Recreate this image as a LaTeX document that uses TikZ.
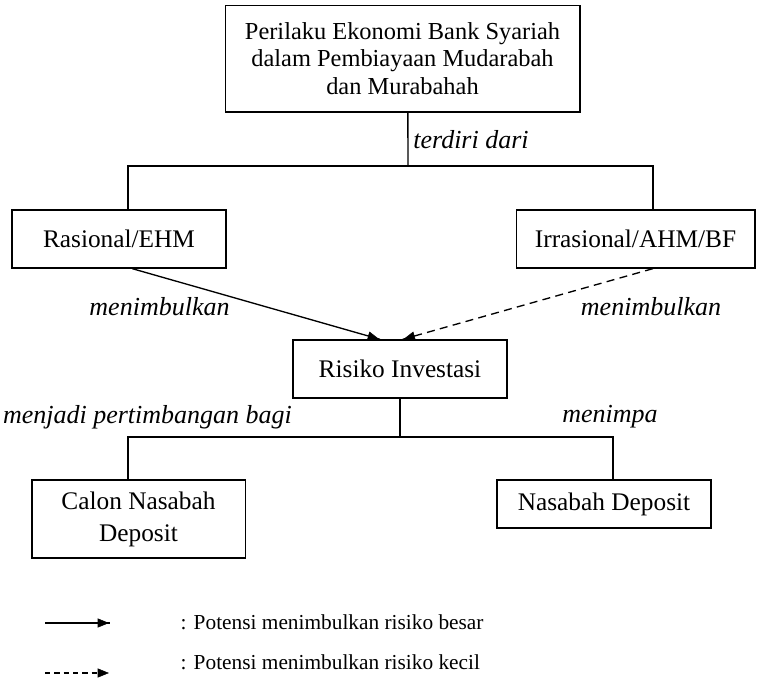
\documentclass[tikz,border=0pt]{standalone}
\usepackage{fontspec}
\setmainfont{Liberation Serif}
\usetikzlibrary{arrows.meta, decorations.markings}
\tikzstyle{Box} = [
draw, line width=1pt, align=center, inner sep=0pt,
font=\fontsize{19}{24}\selectfont
]
\tikzstyle{Label} = [font=\fontsize{19.5}{22}\selectfont\itshape]
\tikzstyle{Line} = [line width=1pt]
\tikzstyle{Arrow} = [
line width=1pt, 
decoration={
	markings,
	mark=at position 1 with {
		\arrow{Triangle[length=9.5pt, width=7.5pt]}
	}
}, 
preaction = {decorate}
]
\tikzstyle{DashArrow} = [Arrow, dash pattern=on 6pt off 4pt]

\begin{document}
\begin{tikzpicture}[x=0.75pt, y=-0.75pt]
			\useasboundingbox (0,0) rectangle (757,678);
			% boxes
			\node[Box, minimum width=266pt, minimum height=80pt, font=\fontsize{18.3}{20.4}\selectfont] (perilaku) at (402.5,58.5) {Perilaku Ekonomi Bank Syariah\\dalam Pembiayaan Mudarabah\\dan Murabahah};
			\node[Box, minimum width=160.5pt, minimum height=43.5pt] (rasional) at (119,239) {Rasional/EHM};
			\node[Box, minimum width=179pt, minimum height=43.5pt] (irasional) at (635.5,239) {Irrasional/AHM/BF};
			\node[Box, minimum width=160.5pt, minimum height=43.5pt] (risiko) at (400,369) {Risiko Investasi};
			\node[Box, minimum width=160pt, minimum height=58.5pt] (calon) at (138.5,519) {Calon Nasabah\\Deposit};
			\node[Box, minimum width=160.5pt, minimum height=36pt] (nasabah) at (604,504) {Nasabah Deposit};
			
			% labels
			\node[Label] (terdiri) at (471,140) {terdiri dari};
			\node[Label] (timbul1) at (159.5,307) {menimbulkan};
			\node[Label] (timbul2) at (651,307) {menimbulkan};
			\node[Label] (pertimbangan) at (147.5,417) {menjadi pertimbangan bagi};
			\node[Label] (menimpa) at (610,417) {menimpa};
			
			% connectors
			\coordinate (busatas) at (408,166);
			\coordinate (busbawah) at (400,437);
			\draw[Line] ([xshift=4pt]perilaku.south) -- (busatas);
			\draw[Line] ([xshift=6.75pt]rasional.north) |- (busatas) -| ([xshift=13pt]irasional.north);
			\draw[Line] (risiko.south) -- (busbawah);
			\draw[Line] ([xshift=-7.9pt]calon.north) |- (busbawah) -| ([xshift=6.75pt]nasabah.north);
			\draw[Arrow] ([xshift=10pt]rasional.south) -- ([xshift=-15pt]risiko.north);
			\draw[DashArrow] ([xshift=13pt]irasional.south) -- ([xshift=2pt]risiko.north);
			
			% legend
			\coordinate (besar1) at (45,623);
			\coordinate (besar2) at (110,623);
			\coordinate (kecil1) at (45,673);
			\coordinate (kecil2) at (110,673);
			\draw[Arrow] (besar1) -- (besar2);
			\draw[Arrow, dash pattern=on 4pt off 3pt] (kecil1) -- (kecil2);
			\node[anchor=west, font=\fontsize{16}{18}\selectfont] (ketbesar) at (176,622) {: Potensi menimbulkan risiko besar};
			\node[anchor=west, font=\fontsize{16}{18}\selectfont] (ketkecil) at (176,662) {: Potensi menimbulkan risiko kecil};
		\end{tikzpicture}
\end{document}
